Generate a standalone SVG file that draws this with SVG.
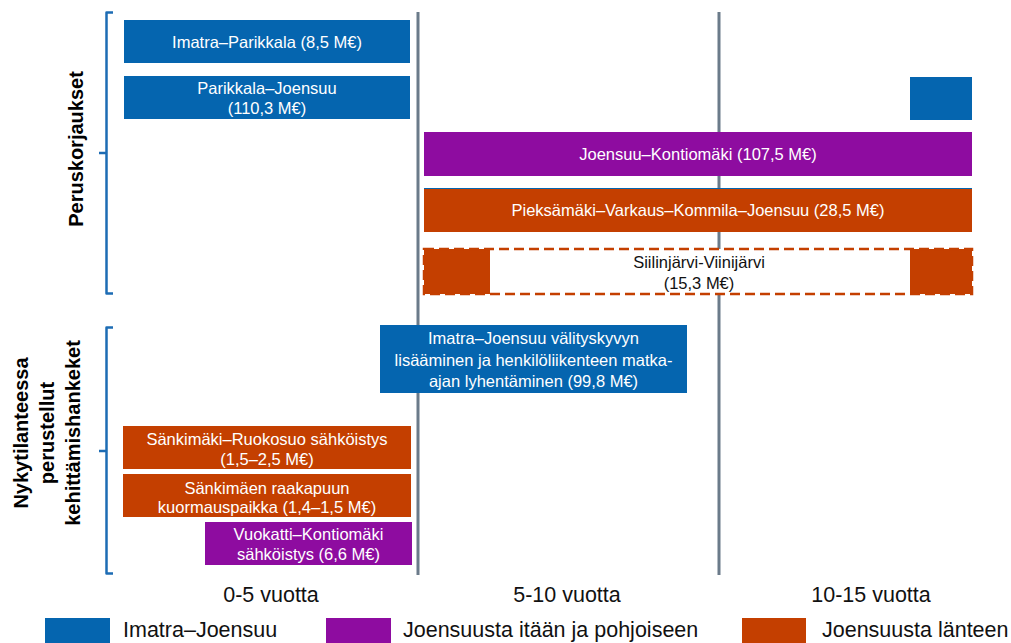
<svg xmlns="http://www.w3.org/2000/svg" width="1011" height="643" viewBox="0 0 1011 643">
<style>
.t{font-family:"Liberation Sans",Arial,sans-serif;font-size:16.5px;fill:#fff;text-anchor:middle}
.d{fill:#111}
.ax{font-family:"Liberation Sans",Arial,sans-serif;font-size:21.5px;fill:#111;text-anchor:middle}
.lg{font-family:"Liberation Sans",Arial,sans-serif;font-size:21.5px;fill:#111}
.yl{font-family:"Liberation Sans",Arial,sans-serif;font-size:20px;font-weight:bold;fill:#000;text-anchor:middle}
.blue{fill:#0565AF}
.purple{fill:#8E0CA0}
.orange{fill:#C43F00}
.grid{stroke:#6B7B8A;stroke-width:3}
.br{fill:none;stroke:#1D6CB4;stroke-width:2.5;stroke-linejoin:round}
</style>
<rect width="1011" height="643" fill="#fff"/>
<g id="connectors">
<line class="grid" x1="418" y1="12" x2="418" y2="575"/>
<line class="grid" x1="719" y1="12" x2="719" y2="575"/>
<path class="br" d="M113,12.5 H106.5 V293.5 H113 M99,153 H106.5"/>
<path class="br" d="M113,327.5 H106.5 V573.5 H113 M99,451 H106.5"/>
</g>
<g id="ylabel1"><text class="yl" transform="translate(83,149) rotate(-90)">Peruskorjaukset</text></g>
<g id="ylabel2">
<text class="yl" transform="translate(28,433) rotate(-90)">Nykytilanteessa</text>
<text class="yl" transform="translate(54,433) rotate(-90)">perustellut</text>
<text class="yl" transform="translate(80,433) rotate(-90)">kehittämishankeket</text>
</g>
<g id="imatra-parikkala">
<rect class="blue" x="124" y="20" width="286" height="43"/>
<text class="t" x="267" y="47.5">Imatra–Parikkala (8,5 M€)</text>
</g>
<g id="parikkala-joensuu">
<rect class="blue" x="124" y="76" width="286" height="43"/>
<text class="t" x="267" y="93.5">Parikkala–Joensuu</text>
<text class="t" x="267" y="114">(110,3 M€)</text>
</g>
<g id="parikkala-joensuu-end">
<rect class="blue" x="910" y="77" width="62" height="43"/>
</g>
<g id="joensuu-kontiomaki">
<rect class="purple" x="424" y="132" width="548" height="44"/>
<text class="t" x="698" y="160">Joensuu–Kontiomäki (107,5 M€)</text>
</g>
<g id="pieksamaki">
<rect class="orange" x="424" y="188" width="548" height="44"/>
<line x1="424" y1="188.5" x2="972" y2="188.5" stroke="#0565AF" stroke-width="1"/>
<text class="t" x="698" y="216">Pieksämäki–Varkaus–Kommila–Joensuu (28,5 M€)</text>
</g>
<g id="siilinjarvi">
<rect x="424" y="249" width="548" height="45" fill="#fff"/>
<rect class="orange" x="424" y="249" width="66" height="45"/>
<rect class="orange" x="910" y="249" width="62" height="45"/>
<rect x="424" y="249" width="548" height="45" fill="none" stroke="#C43F00" stroke-width="2.5" stroke-dasharray="10,5"/>
<text class="t d" x="699" y="268">Siilinjärvi-Viinijärvi</text>
<text class="t d" x="699" y="289">(15,3 M€)</text>
</g>
<g id="imatra-joensuu-valityskyky">
<rect class="blue" x="380" y="325" width="307" height="68"/>
<text class="t" x="533.5" y="344">Imatra–Joensuu välityskyvyn</text>
<text class="t" x="533.5" y="366">lisääminen ja henkilöliikenteen matka-</text>
<text class="t" x="533.5" y="387">ajan lyhentäminen (99,8 M€)</text>
</g>
<g id="sankimaki-ruokosuo">
<rect class="orange" x="123" y="426" width="288" height="43"/>
<text class="t" x="267" y="445">Sänkimäki–Ruokosuo sähköistys</text>
<text class="t" x="267" y="464.5">(1,5–2,5 M€)</text>
</g>
<g id="sankimaki-kuormauspaikka">
<rect class="orange" x="123" y="474" width="288" height="43"/>
<text class="t" x="267" y="494">Sänkimäen raakapuun</text>
<text class="t" x="267" y="513">kuormauspaikka (1,4–1,5 M€)</text>
</g>
<g id="vuokatti-kontiomaki">
<rect class="purple" x="205" y="522" width="207" height="43"/>
<text class="t" x="308.5" y="540">Vuokatti–Kontiomäki</text>
<text class="t" x="308.5" y="560">sähköistys (6,6 M€)</text>
</g>
<g id="axis">
<text class="ax" x="271" y="602">0-5 vuotta</text>
<text class="ax" x="567" y="602">5-10 vuotta</text>
<text class="ax" x="871" y="602">10-15 vuotta</text>
</g>
<g id="legend">
<rect class="blue" x="45" y="618" width="65" height="25"/>
<text class="lg" x="123" y="637">Imatra–Joensuu</text>
<rect class="purple" x="326" y="618" width="65" height="25"/>
<text class="lg" x="403" y="637">Joensuusta itään ja pohjoiseen</text>
<rect class="orange" x="742" y="618" width="64" height="25"/>
<text class="lg" x="822" y="637">Joensuusta länteen</text>
</g>
</svg>
